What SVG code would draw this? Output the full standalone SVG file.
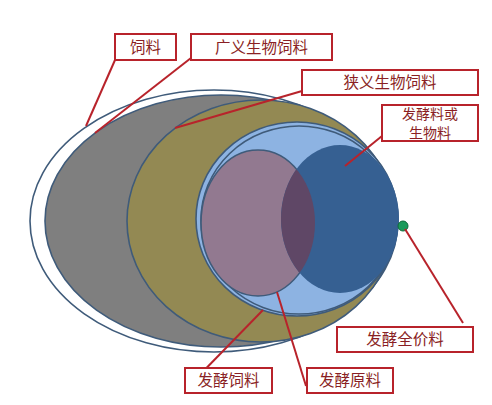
<svg xmlns="http://www.w3.org/2000/svg" width="492" height="405" viewBox="0 0 492 405">
<style>
.sh{stroke:#3f5b7a;stroke-width:1.6}
.box rect{fill:#fff;stroke:#b8232b;stroke-width:2}
.box text{font-family:"Noto Sans CJK SC","Liberation Sans",sans-serif;font-size:15.5px;fill:#8a1f24;text-anchor:middle}
.box text.sm{font-size:14px}
.ln{stroke:#b8232b;stroke-width:2;fill:none}
</style>
<defs>
<clipPath id="mclip"><ellipse cx="258" cy="223" rx="57" ry="73"/></clipPath>
</defs>
<rect width="492" height="405" fill="#fff"/>
<g id="shapes">
<ellipse id="outer" class="sh" cx="214" cy="221" rx="184" ry="131" fill="#fff"/>
<ellipse id="gray" class="sh" cx="221" cy="221" rx="176" ry="126" fill="#7f7f7f"/>
<ellipse id="olive" class="sh" cx="261" cy="221" rx="134" ry="121" fill="#938953"/>
<ellipse id="lightblue" class="sh" cx="297" cy="219" rx="101" ry="97" fill="#8db3e2"/>
<ellipse id="lightblue2" class="sh" cx="299" cy="220" rx="98" ry="94" fill="none"/>
<ellipse id="mauve" cx="258" cy="223" rx="57" ry="73" fill="#927990" stroke="#3f5b7a" stroke-width="1.6"/>
<ellipse id="darkblue" cx="340" cy="219" rx="59" ry="74" fill="#366092"/>
<ellipse id="overlap" cx="340" cy="219" rx="59" ry="74" fill="#5f4766" clip-path="url(#mclip)"/>
<circle id="dot" cx="403" cy="226" r="5" fill="#1a9a5a" stroke="#0e6a3a" stroke-width="1"/>
</g>
<g id="connectors">
<line class="ln" x1="115" y1="60" x2="86" y2="126"/>
<line class="ln" x1="191" y1="58" x2="95" y2="133"/>
<line class="ln" x1="302" y1="91" x2="175" y2="128"/>
<line class="ln" x1="382" y1="136" x2="345" y2="166"/>
<line class="ln" x1="405" y1="229" x2="463" y2="323"/>
<line class="ln" x1="185" y1="390" x2="263" y2="310"/>
<line class="ln" x1="306" y1="386" x2="277" y2="292"/>
</g>
<g id="n1" class="box"><rect x="115" y="34" width="61" height="26"/><text x="145.5" y="53">饲料</text></g>
<g id="n2" class="box"><rect x="191" y="34" width="141" height="26"/><text x="261.5" y="53">广义生物饲料</text></g>
<g id="n3" class="box"><rect x="302" y="70" width="176" height="25"/><text x="390" y="88">狭义生物饲料</text></g>
<g id="n4" class="box"><rect x="382" y="105" width="96" height="36"/><text class="sm" x="430" y="119">发酵料或</text><text class="sm" x="430" y="137.5">生物料</text></g>
<g id="n5" class="box"><rect x="337" y="327" width="136" height="25"/><text x="405" y="345">发酵全价料</text></g>
<g id="n6" class="box"><rect x="185" y="368" width="87" height="25"/><text x="228.5" y="386">发酵饲料</text></g>
<g id="n7" class="box"><rect x="307" y="368" width="86" height="25"/><text x="350" y="386">发酵原料</text></g>
</svg>
